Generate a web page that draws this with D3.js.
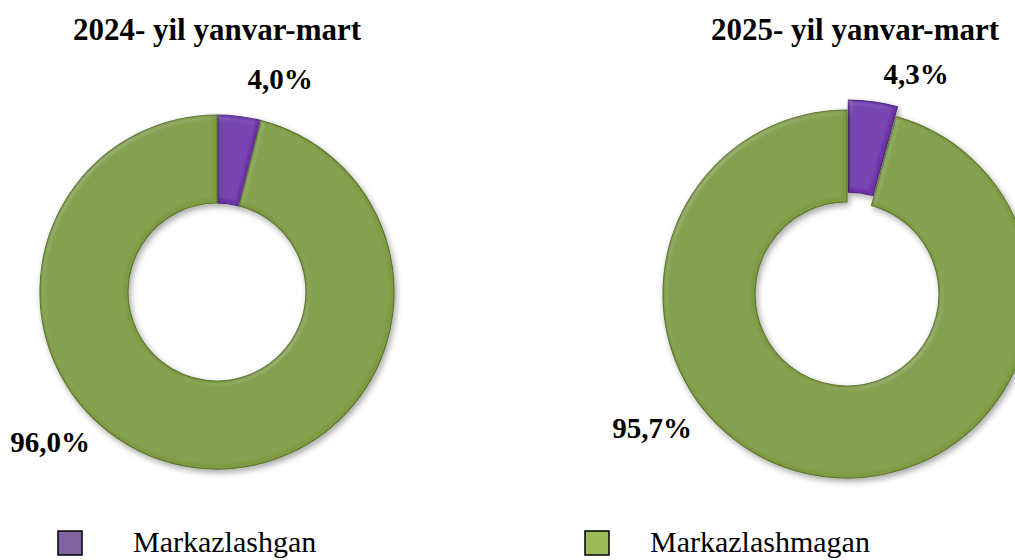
<!DOCTYPE html>
<html>
<head>
<meta charset="utf-8">
<script src="https://cdn.jsdelivr.net/npm/d3@7"></script>
<style>
  body { margin: 0; background: #fff; }
  svg { display: block; font-family: "Liberation Serif", "Times New Roman", serif; }
</style>
</head>
<body>
<svg></svg>
<script>
// Chart data
const categories = ["Markazlashgan", "Markazlashmagan"];
const titles = ["2024- yil yanvar-mart", "2025- yil yanvar-mart"];
const values2024 = [4.0, 96.0];
const values2025 = [4.3, 95.7];

const width = 1015;
const height = 560;
const sliceColors = ["#7032ac", "#7d9b40"];
const legendColors = ["#8064a2", "#9bbb59"];

const svg = d3.select("svg")
    .attr("width", width)
    .attr("height", height);

// Bevel-like filter for the donut slices
const defs = svg.append("defs");
const bevel = defs.append("filter")
    .attr("id", "bevel")
    .attr("x", "-10%").attr("y", "-10%")
    .attr("width", "120%").attr("height", "120%");
bevel.append("feGaussianBlur").attr("in", "SourceAlpha").attr("stdDeviation", 2.5).attr("result", "blur");
bevel.append("feSpecularLighting")
    .attr("in", "blur").attr("surfaceScale", 3).attr("specularConstant", 0.5)
    .attr("specularExponent", 16).attr("lighting-color", "#ffffff").attr("result", "spec")
    .append("feDistantLight").attr("azimuth", 225).attr("elevation", 45);
bevel.append("feComposite").attr("in", "spec").attr("in2", "SourceAlpha").attr("operator", "in").attr("result", "specIn");
bevel.append("feComposite").attr("in", "SourceGraphic").attr("in2", "specIn")
    .attr("operator", "arithmetic").attr("k1", 0).attr("k2", 1).attr("k3", 0.2).attr("k4", 0).attr("result", "lit");
bevel.append("feGaussianBlur").attr("in", "SourceAlpha").attr("stdDeviation", 3).attr("result", "sblur");
bevel.append("feOffset").attr("in", "sblur").attr("dx", 2).attr("dy", 3).attr("result", "soff");
bevel.append("feComponentTransfer").attr("in", "soff").attr("result", "shadow")
    .append("feFuncA").attr("type", "linear").attr("slope", 0.35);
const merge = bevel.append("feMerge");
merge.append("feMergeNode").attr("in", "shadow");
merge.append("feMergeNode").attr("in", "lit");

const pie = d3.pie().sort(null).value(d => d);

function drawDonut(values, cfg) {
    const g = svg.append("g")
        .attr("transform", `translate(${cfg.cx},${cfg.cy})`);
    const arc = d3.arc().innerRadius(cfg.inner).outerRadius(cfg.outer);
    const arcs = pie(values);

    g.selectAll("path")
        .data(arcs)
        .enter()
        .append("path")
        .attr("d", arc)
        .attr("fill", (d, i) => sliceColors[i])
        .attr("stroke", (d, i) => d3.color(sliceColors[i]).darker(0.8))
        .attr("stroke-width", 1.2)
        .attr("filter", "url(#bevel)")
        .attr("transform", (d, i) => {
            if (i !== 0 || !cfg.explode) return null;
            const mid = (d.startAngle + d.endAngle) / 2;
            return `translate(${Math.sin(mid) * cfg.explode},${-Math.cos(mid) * cfg.explode})`;
        });

    // Title
    svg.append("text")
        .attr("x", cfg.titleX)
        .attr("y", 40)
        .attr("text-anchor", "middle")
        .style("font-size", "31px")
        .style("font-weight", "bold")
        .text(cfg.title);

    // Value labels
    cfg.labels.forEach((p, i) => {
        svg.append("text")
            .attr("x", p[0])
            .attr("y", p[1])
            .attr("text-anchor", "middle")
            .style("font-size", "29px")
            .style("font-weight", "bold")
            .text(d3.format(".1f")(values[i]).replace(".", ",") + "%");
    });
}

drawDonut(values2024, {
    cx: 217, cy: 292, outer: 177, inner: 89, explode: 0,
    title: titles[0], titleX: 217,
    labels: [[280, 89], [50, 452]]
});

drawDonut(values2025, {
    cx: 847, cy: 294, outer: 184, inner: 92, explode: 10,
    title: titles[1], titleX: 855,
    labels: [[916, 84], [652, 438]]
});

// Legend
const legendX = [58, 585];
const legendText = [133, 650];
categories.forEach((c, i) => {
    svg.append("rect")
        .attr("x", legendX[i])
        .attr("y", 531)
        .attr("width", 24)
        .attr("height", 24)
        .attr("fill", legendColors[i])
        .attr("stroke", "#000")
        .attr("stroke-width", 1.5);
    svg.append("text")
        .attr("x", legendText[i])
        .attr("y", 552)
        .style("font-size", "30px")
        .text(c);
});
</script>
</body>
</html>
